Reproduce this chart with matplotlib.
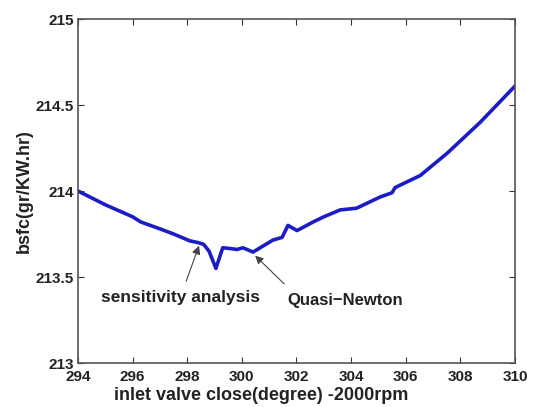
import matplotlib
matplotlib.use("Agg")
import matplotlib.pyplot as plt

plt.rcParams['font.family'] = ['Liberation Sans', 'DejaVu Sans']
plt.rcParams['font.weight'] = 'bold'

ivc_deg = [294.0, 295.0, 296.0, 296.3, 297.0, 297.5, 298.1, 298.4, 298.6, 298.8,
           299.05, 299.3, 299.6, 299.82, 300.04, 300.41, 300.67, 301.14, 301.47,
           301.69, 302.02, 302.61, 303.0, 303.6, 304.2, 305.06, 305.5, 305.61,
           306.53, 307.52, 308.73, 310.0]
bsfc = [214.0, 213.92, 213.85, 213.82, 213.78, 213.75, 213.71, 213.70, 213.69, 213.65,
        213.55, 213.67, 213.665, 213.66, 213.67, 213.645, 213.67, 213.715, 213.73,
        213.80, 213.77, 213.82, 213.85, 213.89, 213.90, 213.965, 213.99, 214.02,
        214.09, 214.22, 214.40, 214.61]

x_ticks = [294, 296, 298, 300, 302, 304, 306, 308, 310]
y_ticks = [213, 213.5, 214, 214.5, 215]
y_tick_labels = ['213', '213.5', '214', '214.5', '215']

fig = plt.figure(figsize=(5.33, 4.07), dpi=100)
ax = fig.add_axes([0.1463, 0.1081, 0.8199, 0.8452])
ax.plot(ivc_deg, bsfc, color='#1c1cc4', linewidth=2.6)
ax.set_xlim(294, 310)
ax.set_ylim(213, 215)
ax.set_xticks(x_ticks)
ax.set_yticks(y_ticks)
ax.set_yticklabels(y_tick_labels)
ax.tick_params(direction='in', top=True, right=True, labelsize=11, length=4,
               colors='#333333', labelcolor='#222222', pad=2)
ax.tick_params(axis='x', pad=5)
ax.tick_params(axis='y', pad=3)
for s in ax.spines.values():
    s.set_color('#555555')
    s.set_linewidth(1.2)
ax.set_xlabel('inlet valve close(degree) -2000rpm', fontsize=13, fontweight='bold',
              color='#222222')
ax.xaxis.set_label_coords(0.42, -0.095)
ax.xaxis.label.set_va('center')
ax.set_ylabel('bsfc(gr/KW.hr)', fontsize=13, fontweight='bold', color='#222222')
ax.yaxis.set_label_coords(-0.122, 0.5)
ax.yaxis.label.set_va('center')

ax.annotate('sensitivity analysis', xy=(298.45, 213.69), xytext=(297.74, 213.378),
            ha='center', va='center', fontsize=12.5, fontweight='bold', color='#222222',
            arrowprops=dict(arrowstyle='-|>', color='#444444', lw=0.8,
                            shrinkA=5, shrinkB=1))
ax.annotate('Quasi\u2212Newton', xy=(300.45, 213.63), xytext=(303.78, 213.366),
            ha='center', va='center', fontsize=12, fontweight='bold', color='#222222',
            arrowprops=dict(arrowstyle='-|>', color='#444444', lw=0.8,
                            shrinkA=6, shrinkB=1, relpos=(0.05, 1.0)))

fig.savefig('out.png', dpi=100)
